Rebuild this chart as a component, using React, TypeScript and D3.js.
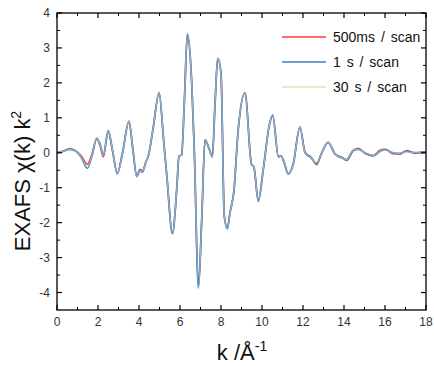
import React from "react";
import * as d3 from "d3";

const kValues = [0.0,0.3,0.63,0.9,1.2,1.48,1.7,1.94,2.1,2.26,2.5,2.7,2.94,3.2,3.51,3.7,3.89,4.05,4.16,4.35,4.45,4.68,4.98,5.2,5.36,5.63,5.84,5.95,6.08,6.21,6.36,6.54,6.7,6.9,7.06,7.22,7.41,7.58,7.71,7.84,8.0,8.16,8.31,8.44,8.63,8.84,9.17,9.49,9.6,9.82,10.06,10.36,10.52,10.8,10.93,11.07,11.28,11.52,11.85,12.1,12.4,12.67,12.9,13.23,13.56,13.9,14.13,14.45,14.7,15.03,15.43,15.75,16.0,16.4,16.73,17.06,17.46,17.86,18.0];

const scan500ms = [0.0,0.05,0.11,0.06,-0.1,-0.33,-0.05,0.4,0.2,-0.12,0.62,0.08,-0.58,0.02,0.9,0.1,-0.66,-0.47,-0.52,-0.24,-0.1,0.66,1.71,0.37,-0.68,-2.3,-1.05,-0.1,-0.06,1.42,3.38,2.36,0.0,-3.84,-1.9,0.38,0.14,-0.12,1.42,2.7,2.28,-1.8,-2.16,-1.7,-1.1,0.66,1.7,-0.32,-0.4,-1.36,-0.48,0.8,1.07,-0.12,-0.08,-0.28,-0.6,-0.32,0.73,0.02,-0.13,-0.34,-0.02,0.3,-0.04,-0.13,-0.22,0.06,0.13,-0.02,-0.08,0.07,0.1,-0.03,-0.04,0.06,-0.02,0.03,0.02];

const scan1s = [0.0,0.04,0.1,0.05,-0.15,-0.44,-0.1,0.42,0.25,-0.06,0.63,0.1,-0.6,0.0,0.9,0.1,-0.68,-0.5,-0.56,-0.25,-0.1,0.66,1.72,0.37,-0.68,-2.32,-1.06,-0.1,-0.06,1.42,3.4,2.37,0.0,-3.87,-1.91,0.37,0.13,-0.1,1.42,2.7,2.28,-1.82,-2.18,-1.72,-1.1,0.66,1.72,-0.34,-0.39,-1.39,-0.49,0.8,1.08,-0.1,-0.09,-0.25,-0.6,-0.34,0.74,0.0,-0.15,-0.3,-0.02,0.3,-0.03,-0.15,-0.2,0.07,0.1,0.0,-0.09,0.04,0.09,0.0,-0.02,0.04,0.0,0.0,0.02];

const scan30s = [0.0,0.04,0.1,0.05,-0.14,-0.42,-0.09,0.42,0.24,-0.07,0.63,0.1,-0.6,0.0,0.9,0.1,-0.68,-0.5,-0.55,-0.25,-0.1,0.66,1.72,0.37,-0.68,-2.32,-1.06,-0.1,-0.06,1.42,3.4,2.37,0.0,-3.87,-1.91,0.37,0.13,-0.1,1.42,2.7,2.28,-1.82,-2.18,-1.72,-1.1,0.66,1.72,-0.34,-0.39,-1.38,-0.49,0.8,1.08,-0.1,-0.09,-0.25,-0.59,-0.34,0.74,0.0,-0.15,-0.3,-0.02,0.3,-0.03,-0.15,-0.2,0.07,0.1,0.0,-0.08,0.04,0.08,0.0,-0.02,0.03,0.0,0.0,0.02];

const seriesNames = ["500ms / scan", "1 s / scan", "30 s / scan"];
const seriesColors = ["#ff3a3a", "#3a78c8", "#cfeab8"];
const xTickValues = [0, 2, 4, 6, 8, 10, 12, 14, 16, 18];
const yTickValues = [4, 3, 2, 1, 0, -1, -2, -3, -4];

export default function App() {
  const W = 434, H = 366;
  const left = 57, right = 426, top = 13, bottom = 310;
  const x = d3.scaleLinear().domain([0, 18]).range([left, right]);
  const y = d3.scaleLinear().domain([-4.5, 4]).range([bottom, top]);
  const line = d3
    .line<number>()
    .x((_, i) => x(kValues[i]))
    .y((d) => y(d))
    .curve(d3.curveMonotoneX);
  const font = "'Liberation Sans', Arial, sans-serif";
  const xMinor = d3.range(1, 18, 2);
  const yMinor = d3.range(-4.5, 4, 1).filter((v) => v > -4.5);

  return (
    <svg width={W} height={H} style={{ position: "absolute", left: 0, top: 0 }}>
      <rect x={0} y={0} width={W} height={H} fill="white" />
      <g>
        <path d={line(scan500ms) || ""} fill="none" stroke={seriesColors[0]} strokeWidth={1.6} />
        <path d={line(scan1s) || ""} fill="none" stroke={seriesColors[1]} strokeWidth={1.8} />
        <path d={line(scan30s) || ""} fill="none" stroke={seriesColors[2]} strokeWidth={1.1} opacity={0.6} />
      </g>
      <rect x={left} y={top} width={right - left} height={bottom - top} fill="none" stroke="black" strokeWidth={1.3} />
      {xTickValues.map((t) => (
        <g key={"xt" + t}>
          <line x1={x(t)} x2={x(t)} y1={bottom} y2={bottom - 5} stroke="black" strokeWidth={1.2} />
          <line x1={x(t)} x2={x(t)} y1={top} y2={top + 5} stroke="black" strokeWidth={1.2} />
          <text x={x(t)} y={326} textAnchor="middle" fontFamily={font} fontSize={12} fill="#333">{t}</text>
        </g>
      ))}
      {xMinor.map((t) => (
        <g key={"xm" + t}>
          <line x1={x(t)} x2={x(t)} y1={bottom} y2={bottom - 3} stroke="black" strokeWidth={1} />
          <line x1={x(t)} x2={x(t)} y1={top} y2={top + 3} stroke="black" strokeWidth={1} />
        </g>
      ))}
      {yTickValues.map((t) => (
        <g key={"yt" + t}>
          <line x1={left} x2={left + 5} y1={y(t)} y2={y(t)} stroke="black" strokeWidth={1.2} />
          <line x1={right} x2={right - 5} y1={y(t)} y2={y(t)} stroke="black" strokeWidth={1.2} />
          <text x={50} y={y(t) + 4} textAnchor="end" fontFamily={font} fontSize={12} fill="#333">{t}</text>
        </g>
      ))}
      {yMinor.map((t) => (
        <g key={"ym" + t}>
          <line x1={left} x2={left + 3} y1={y(t)} y2={y(t)} stroke="black" strokeWidth={1} />
          <line x1={right} x2={right - 3} y1={y(t)} y2={y(t)} stroke="black" strokeWidth={1} />
        </g>
      ))}
      <text x={242} y={360} textAnchor="middle" fontFamily={font} fontSize={22} fill="#111">
        k /Å<tspan dy={-9} fontSize={14}>-1</tspan>
      </text>
      <text transform="translate(30,181) rotate(-90)" textAnchor="middle" fontFamily={font} fontSize={22} fill="#111">
        EXAFS χ(k) k<tspan dy={-9} fontSize={14}>2</tspan>
      </text>
      {seriesNames.map((n, i) => (
        <g key={n}>
          <line x1={282} x2={326} y1={37 + i * 25} y2={37 + i * 25} stroke={seriesColors[i]} strokeWidth={1.3} />
          <text x={333} y={42 + i * 25} fontFamily={font} fontSize={14} fill="#111" style={{ wordSpacing: "2px" }}>{n}</text>
        </g>
      ))}
    </svg>
  );
}
